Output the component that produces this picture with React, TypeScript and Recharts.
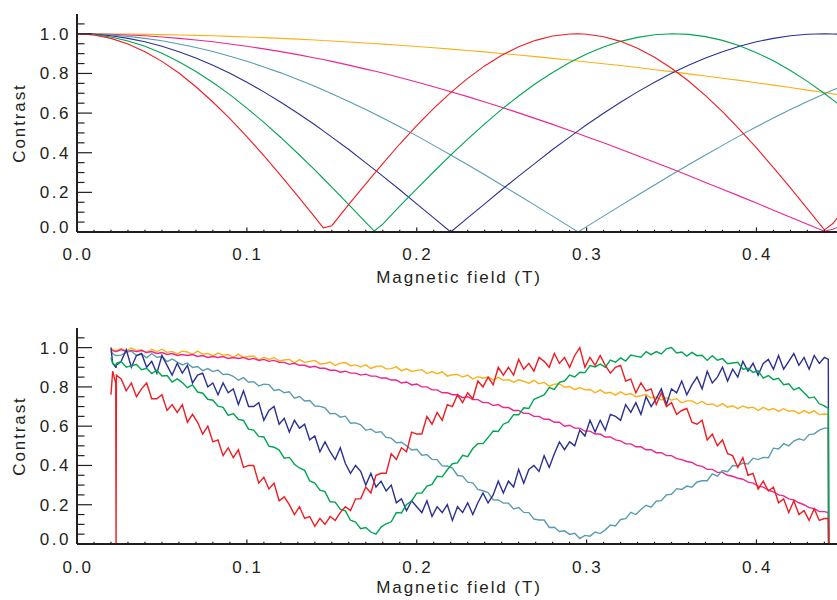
import React from 'react';
import { LineChart, Line, XAxis, YAxis } from 'recharts';

// ---- top panel: model contrast curves ----
const topField = [0, 0.01, 0.02, 0.03, 0.04, 0.05, 0.06, 0.07, 0.08, 0.09, 0.1, 0.11, 0.12, 0.13, 0.14, 0.145, 0.15, 0.16, 0.17, 0.175, 0.18, 0.19, 0.2, 0.21, 0.22, 0.23, 0.24, 0.25, 0.26, 0.27, 0.28, 0.29, 0.295, 0.3, 0.31, 0.32, 0.33, 0.34, 0.35, 0.36, 0.37, 0.38, 0.39, 0.4, 0.41, 0.42, 0.43, 0.44, 0.445, 0.45];

const topRed = [1.0, 0.994, 0.977, 0.949, 0.910, 0.861, 0.802, 0.733, 0.656, 0.572, 0.481, 0.385, 0.285, 0.181, 0.075, 0.021, 0.032, 0.139, 0.243, 0.295, 0.345, 0.444, 0.537, 0.624, 0.703, 0.775, 0.838, 0.892, 0.935, 0.967, 0.989, 0.999, 1.0, 0.998, 0.985, 0.962, 0.927, 0.882, 0.826, 0.762, 0.688, 0.607, 0.518, 0.424, 0.325, 0.223, 0.117, 0.011, 0.043, 0.096];
const topGreen = [1.0, 0.996, 0.984, 0.964, 0.937, 0.902, 0.859, 0.810, 0.754, 0.693, 0.625, 0.553, 0.477, 0.396, 0.313, 0.270, 0.226, 0.138, 0.049, 0.005, 0.040, 0.130, 0.218, 0.304, 0.388, 0.469, 0.546, 0.619, 0.686, 0.749, 0.805, 0.855, 0.877, 0.898, 0.933, 0.962, 0.982, 0.995, 1.0, 0.997, 0.986, 0.967, 0.940, 0.905, 0.864, 0.815, 0.760, 0.699, 0.667, 0.632];
const topBlue = [1.0, 0.998, 0.990, 0.977, 0.960, 0.937, 0.910, 0.878, 0.841, 0.801, 0.756, 0.707, 0.655, 0.599, 0.541, 0.510, 0.479, 0.416, 0.349, 0.316, 0.282, 0.213, 0.142, 0.071, 0.0, 0.071, 0.142, 0.213, 0.282, 0.349, 0.416, 0.479, 0.510, 0.541, 0.599, 0.655, 0.707, 0.756, 0.801, 0.841, 0.878, 0.910, 0.937, 0.960, 0.977, 0.990, 0.998, 1.0, 0.999, 0.998];
const topTeal = [1.0, 0.999, 0.994, 0.987, 0.977, 0.965, 0.949, 0.931, 0.911, 0.887, 0.862, 0.833, 0.803, 0.770, 0.735, 0.716, 0.698, 0.659, 0.618, 0.597, 0.575, 0.531, 0.485, 0.437, 0.389, 0.339, 0.289, 0.237, 0.185, 0.133, 0.080, 0.027, 0.0, 0.027, 0.080, 0.133, 0.185, 0.237, 0.289, 0.339, 0.389, 0.437, 0.485, 0.531, 0.575, 0.618, 0.659, 0.698, 0.716, 0.735];
const topMagenta = [1.0, 0.999, 0.998, 0.994, 0.990, 0.984, 0.977, 0.969, 0.960, 0.949, 0.937, 0.924, 0.910, 0.895, 0.878, 0.870, 0.861, 0.842, 0.822, 0.812, 0.802, 0.780, 0.757, 0.733, 0.708, 0.683, 0.656, 0.629, 0.601, 0.572, 0.543, 0.512, 0.497, 0.481, 0.450, 0.418, 0.385, 0.352, 0.319, 0.285, 0.250, 0.216, 0.181, 0.146, 0.110, 0.075, 0.039, 0.004, 0.014, 0.032];
const topOrange = [1.0, 1.0, 0.999, 0.999, 0.997, 0.996, 0.994, 0.992, 0.990, 0.987, 0.984, 0.981, 0.977, 0.973, 0.969, 0.966, 0.964, 0.959, 0.954, 0.951, 0.948, 0.942, 0.936, 0.930, 0.923, 0.916, 0.909, 0.901, 0.893, 0.885, 0.876, 0.868, 0.863, 0.858, 0.849, 0.840, 0.830, 0.819, 0.809, 0.798, 0.787, 0.776, 0.765, 0.753, 0.741, 0.729, 0.716, 0.704, 0.697, 0.691];

// ---- bottom panel: measured contrast ----
const measField = [
  0.020, 0.021, 0.0228, 0.023, 0.0232,
  0.026, 0.029, 0.032, 0.035, 0.038, 0.041, 0.044, 0.047,
  0.050, 0.053, 0.056, 0.059, 0.062, 0.065, 0.068, 0.071, 0.074, 0.077,
  0.080, 0.083, 0.086, 0.089, 0.092, 0.095, 0.098, 0.101, 0.104, 0.107,
  0.110, 0.113, 0.116, 0.119, 0.122, 0.125, 0.128, 0.131, 0.134, 0.137,
  0.140, 0.143, 0.146, 0.149, 0.152, 0.155, 0.158, 0.161, 0.164, 0.167,
  0.170, 0.173, 0.176, 0.179, 0.182, 0.185, 0.188, 0.191, 0.194, 0.197,
  0.200, 0.203, 0.206, 0.209, 0.212, 0.215, 0.218, 0.221, 0.224, 0.227,
  0.230, 0.233, 0.236, 0.239, 0.242, 0.245, 0.248, 0.251, 0.254, 0.257,
  0.260, 0.263, 0.266, 0.269, 0.272, 0.275, 0.278, 0.281, 0.284, 0.287,
  0.290, 0.293, 0.296, 0.299, 0.302, 0.305, 0.308, 0.311, 0.314, 0.317,
  0.320, 0.323, 0.326, 0.329, 0.332, 0.335, 0.338, 0.341, 0.344, 0.347,
  0.350, 0.353, 0.356, 0.359, 0.362, 0.365, 0.368, 0.371, 0.374, 0.377,
  0.380, 0.383, 0.386, 0.389, 0.392, 0.395, 0.398, 0.401, 0.404, 0.407,
  0.410, 0.413, 0.416, 0.419, 0.422, 0.425, 0.428, 0.431, 0.434, 0.437, 0.440,
  0.4423, 0.4425,
];

const measRed = [
  0.76, 0.88, 0.82, 0, 0.86,
  0.84, 0.78, 0.82, 0.75, 0.79, 0.82, 0.74, 0.74,
  0.76, 0.68, 0.71, 0.67, 0.71, 0.62, 0.66, 0.62, 0.56, 0.60,
  0.52, 0.53, 0.45, 0.49, 0.44, 0.48, 0.39, 0.40, 0.40, 0.31,
  0.34, 0.28, 0.31, 0.22, 0.24, 0.20, 0.15, 0.19, 0.13, 0.14,
  0.09, 0.13, 0.10, 0.14, 0.12, 0.16, 0.19, 0.17, 0.23, 0.23,
  0.29, 0.26, 0.35, 0.36, 0.36, 0.46, 0.43, 0.49, 0.47, 0.57,
  0.56, 0.56, 0.65, 0.61, 0.67, 0.63, 0.71, 0.70, 0.76, 0.72,
  0.77, 0.74, 0.83, 0.80, 0.85, 0.81, 0.90, 0.86, 0.90, 0.86,
  0.94, 0.89, 0.92, 0.88, 0.95, 0.93, 0.90, 0.97, 0.92, 0.95,
  0.90, 0.96, 1.00, 0.90, 0.95, 0.91, 0.96, 0.91, 0.87, 0.90,
  0.91, 0.83, 0.84, 0.77, 0.82, 0.78, 0.79, 0.71, 0.77, 0.70,
  0.72, 0.66, 0.68, 0.69, 0.62, 0.61, 0.63, 0.53, 0.56, 0.50,
  0.53, 0.46, 0.45, 0.39, 0.44, 0.35, 0.36, 0.28, 0.32, 0.27,
  0.29, 0.21, 0.23, 0.16, 0.22, 0.15, 0.17, 0.12, 0.18, 0.12, 0.13,
  0.13, 0,
];
const measGreen = [
  0.95, 0.92, 0.91, 0.91, 0.92,
  0.929, 0.900, 0.908, 0.914, 0.888, 0.895, 0.868, 0.885,
  0.856, 0.858, 0.825, 0.841, 0.822, 0.796, 0.810, 0.774, 0.768, 0.737,
  0.732, 0.702, 0.696, 0.655, 0.664, 0.635, 0.629, 0.585, 0.580, 0.548,
  0.545, 0.498, 0.493, 0.478, 0.437, 0.441, 0.406, 0.387, 0.375, 0.321,
  0.310, 0.274, 0.267, 0.215, 0.213, 0.177, 0.169, 0.121, 0.112, 0.078,
  0.084, 0.061, 0.050, 0.086, 0.103, 0.113, 0.160, 0.158, 0.201, 0.219,
  0.259, 0.260, 0.295, 0.304, 0.345, 0.342, 0.378, 0.409, 0.413, 0.452,
  0.445, 0.486, 0.511, 0.511, 0.542, 0.575, 0.573, 0.610, 0.622, 0.659,
  0.658, 0.694, 0.690, 0.737, 0.748, 0.759, 0.796, 0.787, 0.823, 0.830,
  0.860, 0.851, 0.875, 0.873, 0.909, 0.902, 0.916, 0.900, 0.936, 0.926,
  0.948, 0.932, 0.962, 0.957, 0.951, 0.980, 0.964, 0.980, 0.968, 0.994,
  1.000, 0.973, 0.978, 0.957, 0.976, 0.959, 0.961, 0.935, 0.959, 0.936,
  0.944, 0.918, 0.922, 0.925, 0.890, 0.895, 0.874, 0.882, 0.845, 0.858,
  0.837, 0.844, 0.811, 0.816, 0.785, 0.796, 0.770, 0.743, 0.749, 0.714, 0.703,
  0.69, 0,
];
const measBlue = [
  1.00, 0.92, 0.90, 0.90, 0.91,
  0.93, 0.99, 0.90, 0.96, 0.97, 0.90, 0.93, 0.87,
  0.96, 0.91, 0.86, 0.92, 0.87, 0.91, 0.82, 0.86, 0.87, 0.80,
  0.82, 0.76, 0.82, 0.77, 0.79, 0.71, 0.78, 0.70, 0.70, 0.72,
  0.63, 0.68, 0.70, 0.61, 0.64, 0.57, 0.63, 0.59, 0.61, 0.53,
  0.55, 0.47, 0.52, 0.47, 0.43, 0.49, 0.41, 0.36, 0.40, 0.37,
  0.30, 0.36, 0.29, 0.32, 0.27, 0.30, 0.21, 0.23, 0.17, 0.22,
  0.19, 0.16, 0.22, 0.14, 0.19, 0.16, 0.20, 0.12, 0.19, 0.16,
  0.21, 0.15, 0.21, 0.26, 0.21, 0.25, 0.32, 0.26, 0.32, 0.29,
  0.38, 0.31, 0.38, 0.40, 0.37, 0.45, 0.39, 0.46, 0.52, 0.48,
  0.52, 0.50, 0.58, 0.55, 0.63, 0.57, 0.63, 0.58, 0.66, 0.65,
  0.63, 0.71, 0.67, 0.72, 0.66, 0.75, 0.70, 0.74, 0.79, 0.71,
  0.79, 0.77, 0.83, 0.76, 0.81, 0.85, 0.79, 0.88, 0.82, 0.85,
  0.90, 0.83, 0.89, 0.85, 0.93, 0.88, 0.92, 0.86, 0.92, 0.94,
  0.89, 0.96, 0.89, 0.93, 0.97, 0.91, 0.95, 0.89, 0.96, 0.92, 0.95,
  0.94, 0,
];
const measTeal = [
  0.98, 0.97, 0.96, 0.96, 0.96,
  0.962, 0.976, 0.982, 0.960, 0.967, 0.948, 0.970, 0.951,
  0.955, 0.929, 0.942, 0.926, 0.912, 0.922, 0.899, 0.904, 0.883, 0.893,
  0.878, 0.886, 0.863, 0.865, 0.854, 0.834, 0.847, 0.824, 0.827, 0.805,
  0.814, 0.812, 0.782, 0.787, 0.770, 0.775, 0.743, 0.751, 0.728, 0.731,
  0.703, 0.701, 0.693, 0.663, 0.665, 0.646, 0.651, 0.615, 0.617, 0.607,
  0.579, 0.586, 0.568, 0.572, 0.543, 0.539, 0.515, 0.518, 0.500, 0.479,
  0.482, 0.452, 0.455, 0.431, 0.430, 0.398, 0.397, 0.387, 0.349, 0.346,
  0.315, 0.311, 0.278, 0.271, 0.262, 0.225, 0.224, 0.208, 0.208, 0.178,
  0.186, 0.161, 0.160, 0.127, 0.122, 0.122, 0.084, 0.085, 0.064, 0.067,
  0.049, 0.055, 0.028, 0.044, 0.040, 0.061, 0.053, 0.072, 0.097, 0.092,
  0.125, 0.129, 0.161, 0.150, 0.176, 0.197, 0.188, 0.218, 0.221, 0.250,
  0.253, 0.282, 0.278, 0.295, 0.289, 0.316, 0.322, 0.322, 0.357, 0.345,
  0.374, 0.368, 0.400, 0.398, 0.412, 0.407, 0.437, 0.430, 0.441, 0.439,
  0.488, 0.484, 0.511, 0.500, 0.524, 0.536, 0.528, 0.557, 0.561, 0.580, 0.590,
  0.59, 0,
];
const measMagenta = [
  0.99, 0.985, 0.98, 0.98, 0.98,
  0.99, 0.98, 0.985, 0.98, 0.985, 0.975, 0.98, 0.97,
  0.975, 0.965, 0.97, 0.96, 0.965, 0.96, 0.965, 0.955, 0.96, 0.95,
  0.955, 0.95, 0.955, 0.945, 0.95, 0.945, 0.95, 0.94, 0.945, 0.935,
  0.94, 0.93, 0.935, 0.925, 0.925, 0.915, 0.92, 0.91, 0.91, 0.90,
  0.905, 0.895, 0.895, 0.885, 0.885, 0.875, 0.88, 0.87, 0.87, 0.86,
  0.865, 0.855, 0.855, 0.845, 0.845, 0.835, 0.835, 0.82, 0.825, 0.81,
  0.815, 0.80, 0.80, 0.785, 0.785, 0.77, 0.77, 0.76, 0.76, 0.745,
  0.75, 0.735, 0.735, 0.72, 0.72, 0.705, 0.71, 0.695, 0.695, 0.68,
  0.68, 0.665, 0.665, 0.65, 0.65, 0.635, 0.635, 0.62, 0.62, 0.60,
  0.605, 0.59, 0.59, 0.575, 0.575, 0.56, 0.56, 0.545, 0.545, 0.53,
  0.525, 0.51, 0.51, 0.495, 0.495, 0.48, 0.48, 0.465, 0.465, 0.45,
  0.45, 0.435, 0.43, 0.42, 0.415, 0.40, 0.395, 0.38, 0.38, 0.365,
  0.365, 0.35, 0.345, 0.335, 0.33, 0.315, 0.31, 0.295, 0.29, 0.275,
  0.265, 0.25, 0.245, 0.23, 0.225, 0.21, 0.20, 0.185, 0.18, 0.165, 0.165,
  0.16, 0,
];
const measOrange = [
  1.00, 0.99, 0.985, 0.985, 0.985,
  0.995, 0.982, 0.998, 0.985, 0.989, 0.975, 0.992, 0.980,
  0.992, 0.976, 0.981, 0.968, 0.982, 0.978, 0.966, 0.982, 0.967, 0.970,
  0.958, 0.972, 0.962, 0.965, 0.951, 0.967, 0.950, 0.955, 0.958, 0.937,
  0.951, 0.940, 0.950, 0.932, 0.937, 0.940, 0.923, 0.939, 0.925, 0.930,
  0.935, 0.917, 0.919, 0.927, 0.909, 0.921, 0.924, 0.908, 0.912, 0.901,
  0.912, 0.894, 0.904, 0.907, 0.892, 0.893, 0.902, 0.883, 0.892, 0.879,
  0.884, 0.888, 0.868, 0.878, 0.867, 0.877, 0.855, 0.862, 0.864, 0.850,
  0.860, 0.840, 0.852, 0.844, 0.851, 0.836, 0.849, 0.834, 0.837, 0.824,
  0.836, 0.829, 0.819, 0.833, 0.816, 0.823, 0.804, 0.814, 0.816, 0.798,
  0.802, 0.786, 0.797, 0.785, 0.787, 0.770, 0.785, 0.768, 0.773, 0.758,
  0.775, 0.760, 0.766, 0.750, 0.755, 0.761, 0.743, 0.749, 0.733, 0.745,
  0.733, 0.740, 0.719, 0.729, 0.729, 0.714, 0.726, 0.710, 0.713, 0.700,
  0.715, 0.697, 0.704, 0.689, 0.703, 0.693, 0.697, 0.680, 0.696, 0.683,
  0.690, 0.675, 0.689, 0.676, 0.679, 0.664, 0.679, 0.666, 0.678, 0.659, 0.662,
  0.66, 0,
];

// ---- axis ticks ----
const xTicks = [0, 0.01, 0.02, 0.03, 0.04, 0.05, 0.06, 0.07, 0.08, 0.09, 0.1, 0.11, 0.12, 0.13, 0.14, 0.15, 0.16, 0.17, 0.18, 0.19, 0.2, 0.21, 0.22, 0.23, 0.24, 0.25, 0.26, 0.27, 0.28, 0.29, 0.3, 0.31, 0.32, 0.33, 0.34, 0.35, 0.36, 0.37, 0.38, 0.39, 0.4, 0.41, 0.42, 0.43, 0.44];
const xMajor = [0, 0.1, 0.2, 0.3, 0.4];
const yTicks = [0, 0.05, 0.1, 0.15, 0.2, 0.25, 0.3, 0.35, 0.4, 0.45, 0.5, 0.55, 0.6, 0.65, 0.7, 0.75, 0.8, 0.85, 0.9, 0.95, 1.0, 1.05];
const yMajor = [0, 0.2, 0.4, 0.6, 0.8, 1.0];

const FRAME = '#231f20';
const FONT = "'Liberation Sans', Arial, sans-serif";
const X_MAX = 0.448;

const series = [
  { key: 'orange', color: '#fbb017' },
  { key: 'magenta', color: '#ed268e' },
  { key: 'teal', color: '#5a9cb0' },
  { key: 'blue', color: '#2b3190' },
  { key: 'green', color: '#00a551' },
  { key: 'red', color: '#ee1d23' },
];

const topData = topField.map((b, i) => ({
  b,
  red: topRed[i],
  green: topGreen[i],
  blue: topBlue[i],
  teal: topTeal[i],
  magenta: topMagenta[i],
  orange: topOrange[i],
}));

const measData = measField.map((b, i) => ({
  b,
  red: measRed[i],
  green: measGreen[i],
  blue: measBlue[i],
  teal: measTeal[i],
  magenta: measMagenta[i],
  orange: measOrange[i],
}));

const isMajor = (v: number, majors: number[]) => majors.some((m) => Math.abs(m - v) < 1e-6);

const labelStyle = { fontFamily: FONT, fontSize: 17, fill: FRAME, letterSpacing: 2.5 };

const BottomTick = (props: any) => {
  const { x, y, payload, labelGap } = props;
  const major = isMajor(payload.value, xMajor);
  return (
    <g>
      <line x1={x} y1={y} x2={x} y2={y - (major ? 4.5 : 2.2)} stroke={FRAME} strokeWidth={1.2} />
      {major && (
        <text x={x + 1} y={y + labelGap} textAnchor="middle" style={labelStyle}>
          {payload.value.toFixed(1)}
        </text>
      )}
    </g>
  );
};

const TopTick = (props: any) => {
  const { x, y, payload } = props;
  const major = isMajor(payload.value, xMajor);
  return <line x1={x} y1={y} x2={x} y2={y + (major ? 4.5 : 2.2)} stroke={FRAME} strokeWidth={1.2} />;
};

const LeftTick = (props: any) => {
  const { x, y, payload } = props;
  const v = payload.value;
  const major = isMajor(v, yMajor);
  return (
    <g>
      <line x1={x} y1={y} x2={x + (major ? 15 : 7.5)} y2={y} stroke={FRAME} strokeWidth={1.2} />
      {major && (
        <text x={x - 6} y={v === 0 ? y + 1 : y + 6} textAnchor="end" style={labelStyle}>
          {v.toFixed(1)}
        </text>
      )}
    </g>
  );
};

const RightTick = (props: any) => {
  const { x, y, payload } = props;
  const major = isMajor(payload.value, yMajor);
  return <line x1={x} y1={y} x2={x - (major ? 15 : 7.5)} y2={y} stroke={FRAME} strokeWidth={1.2} />;
};

const XTitle = (props: any) => {
  const vb = props.viewBox || { x: 77, y: 232, width: 761, height: 60 };
  return (
    <text x={vb.x + 382} y={vb.y + props.gap} textAnchor="middle" style={{ ...labelStyle, letterSpacing: 1.9 }}>
      Magnetic field (T)
    </text>
  );
};

const YTitle = (props: any) => {
  const vb = props.viewBox || { x: 0, y: 14, width: 77, height: 218 };
  const cy = vb.y + vb.height / 2;
  return (
    <text
      x={25}
      y={cy}
      transform={`rotate(-90, 25, ${cy})`}
      textAnchor="middle"
      style={{ ...labelStyle, letterSpacing: 1.9 }}
    >
      Contrast
    </text>
  );
};

const axisLine = { stroke: FRAME, strokeWidth: 2 };

const Panel = ({ data, height, bottom, axisHeight, tickGap, titleGap, lineWidth }: any) => (
  <LineChart width={845} height={height} data={data} margin={{ top: 14, right: 7, bottom, left: 0 }}>
    <XAxis
      xAxisId="b"
      dataKey="b"
      type="number"
      domain={[0, X_MAX]}
      allowDataOverflow
      ticks={xTicks}
      interval={0}
      tickSize={0}
      tickMargin={0}
      tickLine={false}
      axisLine={axisLine}
      height={axisHeight}
      tick={(p: any) => <BottomTick {...p} labelGap={tickGap} />}
      label={<XTitle gap={titleGap} />}
    />
    <XAxis
      xAxisId="t"
      orientation="top"
      type="number"
      domain={[0, X_MAX]}
      allowDataOverflow
      ticks={xTicks}
      interval={0}
      tickSize={0}
      tickMargin={0}
      tickLine={false}
      axisLine={axisLine}
      height={0}
      tick={(p: any) => <TopTick {...p} />}
    />
    <YAxis
      yAxisId="l"
      type="number"
      domain={[0, 1.1]}
      allowDataOverflow
      ticks={yTicks}
      interval={0}
      tickSize={0}
      tickMargin={0}
      tickLine={false}
      axisLine={axisLine}
      width={77}
      tick={(p: any) => <LeftTick {...p} />}
      label={<YTitle />}
    />
    <YAxis
      yAxisId="r"
      orientation="right"
      type="number"
      domain={[0, 1.1]}
      allowDataOverflow
      ticks={yTicks}
      interval={0}
      tickSize={0}
      tickMargin={0}
      tickLine={false}
      axisLine={axisLine}
      width={0}
      tick={(p: any) => <RightTick {...p} />}
    />
    {series.map((s) => (
      <Line
        key={s.key}
        xAxisId="b"
        yAxisId="l"
        type="linear"
        dataKey={s.key}
        stroke={s.color}
        strokeWidth={lineWidth}
        dot={false}
        activeDot={false}
        isAnimationActive={false}
      />
    ))}
  </LineChart>
);

export default function App() {
  return (
    <div
      style={{
        position: 'absolute',
        left: 0,
        top: 0,
        width: 837,
        height: 600,
        overflow: 'hidden',
        background: '#ffffff',
      }}
    >
      <div style={{ position: 'absolute', left: 0, top: 0 }}>
        <Panel data={topData} height={300} bottom={8} axisHeight={60} tickGap={28} titleGap={51} lineWidth={1.1} />
      </div>
      <div style={{ position: 'absolute', left: 0, top: 314 }}>
        <Panel data={measData} height={286} bottom={6} axisHeight={50} tickGap={29} titleGap={49} lineWidth={1.4} />
      </div>
    </div>
  );
}
